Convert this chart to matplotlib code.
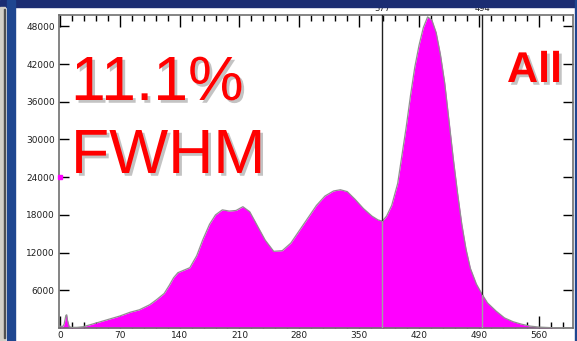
import numpy as np
import matplotlib
matplotlib.use("Agg")
import matplotlib.pyplot as plt
import matplotlib.patheffects as pe
from matplotlib.patches import Rectangle
from matplotlib.transforms import blended_transform_factory

# channel / counts
channel = [0, 3, 5, 7, 8, 9, 11, 14, 20, 27, 35, 45, 55, 70, 82, 93, 105, 113,
           122, 128, 133, 138, 145, 152, 160, 167, 175, 182, 190, 198, 206, 214,
           222, 230, 240, 250, 260, 270, 280, 290, 300, 310, 320, 328, 336, 345,
           355, 365, 372, 377, 382, 388, 395, 400, 405, 410, 415, 420, 425, 430,
           435, 440, 445, 450, 455, 460, 465, 470, 475, 480, 487, 494, 500, 510,
           520, 530, 540, 550, 560, 575, 590]
counts = [300, 200, 600, 2000, 2100, 1200, 200, 100, 100, 200, 500, 900, 1300,
          1900, 2500, 2900, 3700, 4500, 5500, 6800, 8000, 8800, 9200, 9600,
          11500, 14000, 16500, 18000, 18800, 18600, 18700, 19300, 18500, 16500,
          14000, 12200, 12300, 13500, 15500, 17500, 19500, 21000, 21800, 22000,
          21700, 20500, 19000, 17800, 17200, 17000, 17800, 19500, 23000, 27500,
          32000, 37000, 41500, 45000, 47800, 49500, 49000, 47000, 43500, 39000,
          33000, 27000, 21500, 16500, 12500, 9500, 7000, 5300, 4000, 2700, 1600,
          1000, 600, 300, 150, 50, 0]

markers = [377, 494]
xticks = [0, 70, 140, 210, 280, 350, 420, 490, 560]
yticks = [6000, 12000, 18000, 24000, 30000, 36000, 42000, 48000]
threshold = 24000

fig = plt.figure(figsize=(5.77, 3.41), dpi=100)
W, H = 577, 341

# slide decoration around the chart
fig.patches.append(Rectangle((0, 1 - 7 / H), 1, 7 / H, transform=fig.transFigure,
                             color="#1b2d72", zorder=0))
fig.patches.append(Rectangle((7 / W, 0), 8 / W, 1, transform=fig.transFigure,
                             color="#1f4690", zorder=0))
fig.patches.append(Rectangle((575 / W, 0), 2 / W, 1, transform=fig.transFigure,
                             color="#1f4690", zorder=0))
fig.patches.append(Rectangle((0, 0), 5 / W, 1 - 7 / H, transform=fig.transFigure,
                             color="#d4d0c8", zorder=0))
fig.patches.append(Rectangle((3.5 / W, 3 / H), 1 / W, 1 - 12 / H, transform=fig.transFigure,
                             color="#505050", zorder=0))

ax = fig.add_axes([59 / W, 1 - 328 / H, (573 - 59) / W, (328 - 15) / H])

x = np.array(channel, dtype=float)
y = np.array(counts, dtype=float)
ax.fill_between(x, y, color="#ff00ff", lw=0, zorder=2)
ax.plot(x, y, color="#909090", lw=0.9, zorder=3)

for m in markers:
    top = np.interp(m, x, y)
    ax.plot([m, m], [top, 50000], color="#202020", lw=1.0, zorder=4)
    ax.plot([m, m], [0, top], color="#a0a0a0", lw=1.0, zorder=4)

trans = blended_transform_factory(ax.transData, ax.transAxes)
for m in markers:
    ax.text(m, 1.005, str(m), transform=trans, ha="center", va="bottom",
            fontsize=6, color="#202020")

ax.plot([0], [threshold], marker="s", ms=3.5, color="#ff00ff", clip_on=False, zorder=5)

ax.set_xlim(-1, 600)
ax.set_ylim(0, 49800)
ax.set_xticks(xticks)
ax.set_xticks(np.arange(0, 600, 14), minor=True)
ax.set_yticks(yticks)
ax.tick_params(axis="x", which="major", direction="in", length=8.5, width=1,
               top=True, labelsize=6.5, pad=2.5, labelcolor="#202020")
ax.tick_params(axis="x", which="minor", direction="in", length=4.3, width=1, top=True)
ax.tick_params(axis="y", which="major", direction="in", length=7.5, width=1,
               right=True, labelsize=6.5, pad=3, labelcolor="#202020")
for s in ax.spines.values():
    s.set_color("#707070")
    s.set_linewidth(1.2)

shadow = [pe.withSimplePatchShadow(offset=(2, -2), shadow_rgbFace="#888888", alpha=0.5)]
fig.text(71 / W, 1 - 100 / H, "11.1%", color="#ff0000", fontsize=45,
         family="Liberation Sans", path_effects=shadow)
fig.text(71 / W, 1 - 173 / H, "FWHM", color="#ff0000", fontsize=45,
         family="Liberation Sans", path_effects=shadow)
fig.text(507 / W, 1 - 82 / H, "All", color="#ff0000", fontsize=31, weight="bold",
         family="Liberation Sans", path_effects=shadow)

fig.savefig("out.png", dpi=100)
